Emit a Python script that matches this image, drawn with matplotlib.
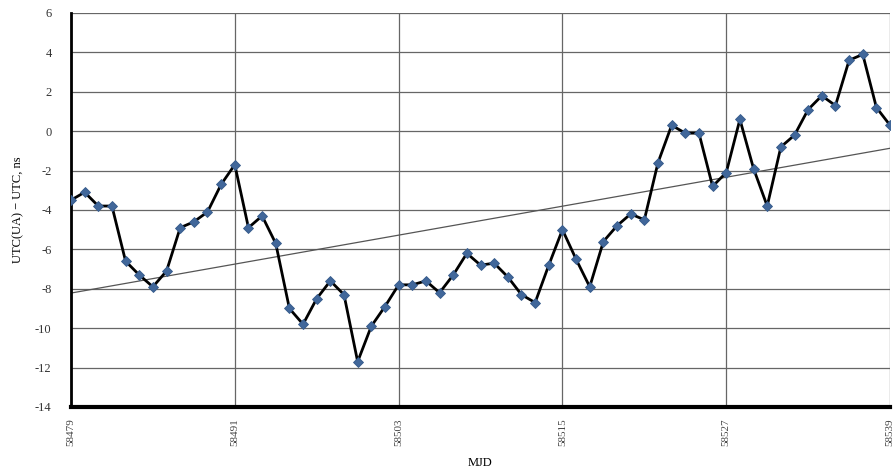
import matplotlib
matplotlib.use("Agg")
import matplotlib.pyplot as plt
import numpy as np

plt.rcParams['font.family'] = ['Liberation Serif', 'DejaVu Serif']

# MJD days and UTC(UA) - UTC offsets, ns
mjd_start = 58479
offsets = [-3.5, -3.1, -3.8, -3.8, -6.6, -7.3, -7.9, -7.1, -4.9, -4.6,
           -4.1, -2.7, -1.7, -4.9, -4.3, -5.7, -9.0, -9.8, -8.5, -7.6,
           -8.3, -11.7, -9.9, -8.9, -7.8, -7.8, -7.6, -8.2, -7.3, -6.2,
           -6.8, -6.7, -7.4, -8.3, -8.7, -6.8, -5.0, -6.5, -7.9, -5.6,
           -4.8, -4.2, -4.5, -1.6, 0.3, -0.1, -0.1, -2.8, -2.1, 0.6,
           -1.9, -3.8, -0.8, -0.2, 1.1, 1.8, 1.3, 3.6, 3.9, 1.2, 0.3]
mjd = np.arange(mjd_start, mjd_start + len(offsets))
x_ticks = [58479, 58491, 58503, 58515, 58527, 58539]
y_ticks = list(range(-14, 7, 2))

fig = plt.figure(figsize=(8.94, 4.74), dpi=100)
ax = fig.add_axes([0.0794, 0.1414, 0.9162, 0.8312])

# linear trend line (like an Excel trendline)
k, b = np.polyfit(mjd, offsets, 1)
ax.plot(mjd, k * mjd + b, color="#555555", lw=0.9, zorder=2)

ax.plot(mjd, offsets, color="black", lw=2, zorder=3)
ax.plot(mjd, offsets, ls="none", marker="D", ms=5.5, color="#41679a",
        markeredgecolor="#34598a", markeredgewidth=0.6, zorder=4)

ax.set_xlim(58479, 58539)
ax.set_ylim(-14, 6)
ax.set_xticks(x_ticks)
ax.set_xticklabels([str(t) for t in x_ticks], rotation=90, fontsize=8, color="#444444")
ax.set_yticks(y_ticks)
ax.set_yticklabels([str(t) for t in y_ticks], fontsize=9, color="#333333")
ax.tick_params(axis="x", length=0, pad=8)
ax.tick_params(axis="y", length=0, pad=14)
ax.grid(True, color="#666666", lw=0.9)
ax.set_axisbelow(True)

for s in ["top", "right"]:
    ax.spines[s].set_visible(False)
ax.spines["left"].set_linewidth(2)
ax.spines["bottom"].set_linewidth(3)

ax.set_xlabel("MJD", fontsize=9, labelpad=8)
ax.set_ylabel("UTC(UA) \u2212 UTC, ns", fontsize=9, labelpad=8)

fig.savefig("out.png", dpi=100)
